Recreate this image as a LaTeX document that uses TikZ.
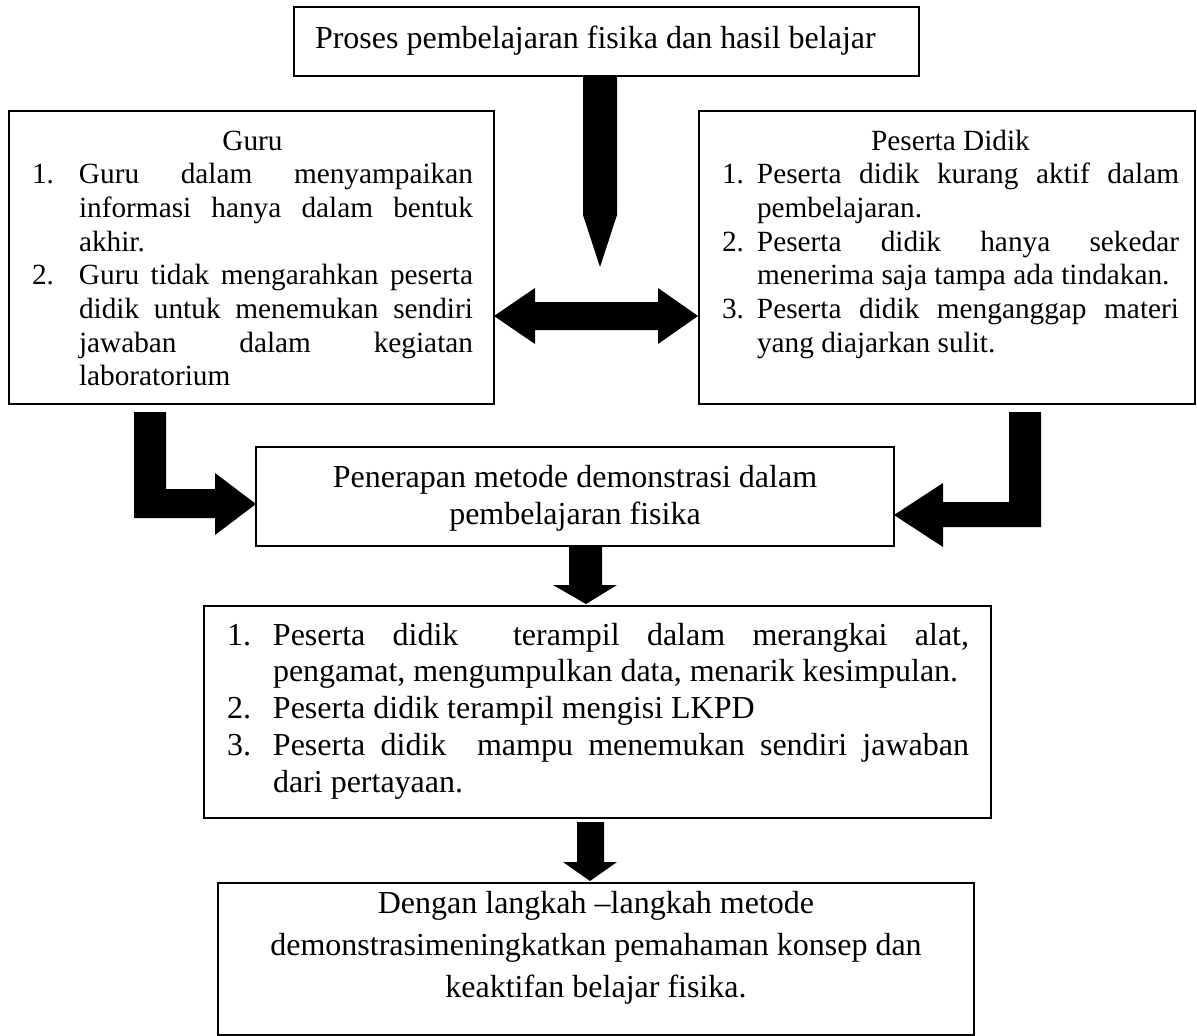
\documentclass[tikz,border=0pt]{standalone}
\usepackage{fontspec}
\setmainfont{Liberation Serif}
\newcommand{\jline}[2]{\makebox[#1][s]{#2}}
\newcommand{\lline}[2]{\makebox[#1][l]{#2}}
\begin{document}
\begin{tikzpicture}[x=1pt,y=-1pt,
  box/.style={draw=black, line width=1.8pt, inner sep=0pt, outer sep=0pt, anchor=north west},
  txt/.style={inner sep=0pt, outer sep=0pt},
  blk/.style={fill=black, draw=none}]
\useasboundingbox (0,0) rectangle (1197,1036);

% boxes
\node[box, minimum width=625pt, minimum height=69pt] (top) at (294,7) {};
\node[box, minimum width=485pt, minimum height=293pt] (guru) at (9,111) {};
\node[box, minimum width=496pt, minimum height=293pt] (pd) at (699,111) {};
\node[box, minimum width=638pt, minimum height=99pt] (pen) at (256,447) {};
\node[box, minimum width=787pt, minimum height=212pt] (hasil) at (204,606) {};
\node[box, minimum width=756pt, minimum height=152pt] (kes) at (218,883) {};

% texts
\node[txt, anchor=base west, font=\fontsize{32}{36.8}\selectfont] (toptxt) at (315,48)
  {Proses pembelajaran fisika dan hasil belajar};

\node[txt, anchor=base west, font=\fontsize{29.3}{33.7}\selectfont] (gurutxt) at (32,150) {\parbox[t]{441pt}{%
\makebox[441pt][c]{Guru}\\
\lline{47pt}{1.}\jline{394pt}{Guru dalam menyampaikan}\\
\lline{47pt}{}\jline{394pt}{informasi hanya dalam bentuk}\\
\lline{47pt}{}\lline{394pt}{akhir.}\\
\lline{47pt}{2.}\jline{394pt}{Guru tidak mengarahkan peserta}\\
\lline{47pt}{}\jline{394pt}{didik untuk menemukan sendiri}\\
\lline{47pt}{}\jline{394pt}{jawaban dalam kegiatan}\\
\lline{47pt}{}\lline{394pt}{laboratorium}}};

\node[txt, anchor=base west, font=\fontsize{29.3}{33.7}\selectfont] (pdtxt) at (722,150) {\parbox[t]{457pt}{%
\makebox[457pt][c]{Peserta Didik}\\
\lline{35pt}{1.}\jline{422pt}{Peserta didik kurang aktif dalam}\\
\lline{35pt}{}\lline{422pt}{pembelajaran.}\\
\lline{35pt}{2.}\jline{422pt}{Peserta didik hanya sekedar}\\
\lline{35pt}{}\lline{422pt}{menerima saja tampa ada tindakan.}\\
\lline{35pt}{3.}\jline{422pt}{Peserta didik menganggap materi}\\
\lline{35pt}{}\lline{422pt}{yang diajarkan sulit.}}};

\node[txt, anchor=base, font=\fontsize{32}{37}\selectfont] (pentxt) at (575,487) {\parbox[t]{620pt}{\centering
Penerapan metode demonstrasi dalam\\
pembelajaran fisika}};

\node[txt, anchor=base west, font=\fontsize{32}{36.8}\selectfont] (hasiltxt) at (227,645) {\parbox[t]{742pt}{%
\lline{46pt}{1.}\jline{696pt}{Peserta didik\ \ terampil dalam merangkai alat,}\\
\lline{46pt}{}\lline{696pt}{pengamat, mengumpulkan data, menarik kesimpulan.}\\
\lline{46pt}{2.}\lline{696pt}{Peserta didik terampil mengisi LKPD}\\
\lline{46pt}{3.}\jline{696pt}{Peserta didik\ \ mampu menemukan sendiri jawaban}\\
\lline{46pt}{}\lline{696pt}{dari pertayaan.}}};

\node[txt, anchor=base, font=\fontsize{32}{42}\selectfont] (kestxt) at (596,913) {\parbox[t]{740pt}{\centering
Dengan langkah –langkah metode\\
demonstrasimeningkatkan pemahaman konsep dan\\
keaktifan belajar fisika.}};

% block arrows
\coordinate (t1) at (600,267);
\fill[blk] (583,76) -- (617,76) -- (617,215) -- (t1) -- (583,215) -- cycle;

\coordinate (dl) at (494,316);
\coordinate (dr) at (698,316);
\fill[blk] (dl) -- (535,288) -- (535,302) -- (658,302) -- (658,288) -- (dr)
  -- (658,344) -- (658,330) -- (535,330) -- (535,344) -- cycle;

\coordinate (lt) at (256,504);
\fill[blk] (134,412) -- (166,412) -- (166,489) -- (215,489) -- (215,473) -- (lt)
  -- (215,535) -- (215,518) -- (134,518) -- cycle;

\coordinate (rt) at (894,515);
\fill[blk] (1009,412) -- (1041,412) -- (1041,527) -- (943,527) -- (943,547) -- (rt)
  -- (943,483) -- (943,502) -- (1009,502) -- cycle;

\coordinate (t5) at (586,604);
\fill[blk] (569,546) -- (602,546) -- (602,585) -- (617,585) -- (t5) -- (553,585) -- (569,585) -- cycle;

\coordinate (t6) at (590,881);
\fill[blk] (577,822) -- (604,822) -- (604,862) -- (617,862) -- (t6) -- (563,862) -- (577,862) -- cycle;
\end{tikzpicture}
\end{document}
